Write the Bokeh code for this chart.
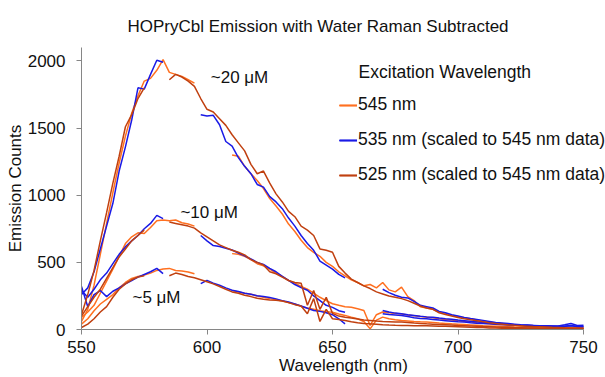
import numpy as np
from bokeh.plotting import figure
from bokeh.models import Range1d, FixedTicker, Legend, LegendItem, Label
from bokeh.embed import file_html
from bokeh.resources import INLINE

nan = float("nan")

# wavelength grid (nm)
wl = np.arange(550, 750.1, 2.5)

# 545 nm excitation (orange)
o20 = [60, 150, 330, 560, 790, 1020, 1240, 1440, 1610, 1740,
       1850, 1870, 1930, 2010, 1915, 1900, 1885, 1860, 1835, nan,
       nan, nan, nan, nan, 1300, 1290, 1215, 1160, 1110, 1050,
       975, 920, 860, 785, 730, 665, 610, 575, 545, 500,
       470, 430, 400, 370, 350, 325, 335, 310, 350, 295,
       280, 315, 245, 215, 170, 160, 150, 130, 120, 105,
       95, 88, 80, 70, 62, 55, 48, 45, 38, 35,
       30, 28, 25, 22, 20, 20, 16, 18, 15, 14,
       14]
o10 = [90, 130, 180, 270, 360, 450, 545, 640, 690, 720,
       715, 760, 810, 815, 810, 815, 795, 785, 770, nan,
       nan, nan, nan, nan, 565, 560, 545, 520, 490, 475,
       450, 420, 395, 365, 345, 320, 300, 270, 240, 215,
       192, 180, 170, 166, 155, 142, 30, 110, 130, 125,
       120, 115, 108, 102, 96, 92, 88, 80, 75, 70,
       65, 60, 55, 50, 46, 42, 38, 35, 32, 29,
       26, 24, 22, 20, 18, 16, 15, 14, 12, 11,
       10]
o5 = [40, 80, 140, 190, 225, 260, 310, 350, 380, 395,
      405, 420, 440, 450, 455, 440, 435, 428, 415, nan,
      nan, nan, nan, nan, 290, 280, 270, 262, 250, 240,
      230, 222, 212, 200, 190, 172, 160, 150, 140, 132,
      128, 115, 105, 92, 80, 60, 5, 70, 92, 80,
      72, 67, 64, 60, 57, 55, 52, 48, 45, 42,
      40, 37, 34, 31, 28, 26, 24, 22, 20, 18,
      17, 16, 15, 14, 13, 12, 11, 10, 10, 9,
      8]

# 535 nm excitation (blue)
b20 = [260, 310, 430, 600, 770, 940, 1180, 1360, 1560, 1800,
       1790, 1900, 2005, 1990, nan, nan, nan, nan, nan, 1600,
       1590, 1595, 1525, 1400, 1365, 1280, 1215, 1160, 1080, 1060,
       990, 950, 900, 830, 770, 700, 640, 590, 510, 480,
       450, 410, 385, nan, nan, nan, nan, nan, 300, 275,
       255, 240, 235, 210, 180, 170, 160, 135, 125, 110,
       100, 90, 82, 75, 68, 60, 52, 48, 44, 40,
       36, 33, 30, 28, 27, 25, 26, 35, 45, 30,
       32]
b10 = [290, 240, 300, 370, 420, 490, 560, 615, 660, 700,
       750, 790, 850, 826, nan, nan, nan, nan, nan, 700,
       660, 625, 618, 605, 592, 570, 548, 525, 500, 485,
       455, 430, 395, 365, 335, 312, 292, 250, 215, 180,
       165, 140, 129, nan, nan, nan, nan, nan, 142, 130,
       122, 117, 110, 104, 98, 94, 92, 85, 80, 76,
       70, 66, 62, 58, 52, 50, 46, 42, 40, 36,
       33, 32, 30, 28, 27, 26, 24, 24, 28, 22,
       20]
b5 = [320, 170, 260, 290, 245, 285, 310, 340, 365, 390,
      410, 430, 455, 416, nan, nan, nan, nan, nan, 341,
      366, 345, 330, 310, 292, 283, 270, 262, 252, 245,
      238, 228, 215, 205, 190, 175, 158, 142, 135, 125,
      110, 80, 42, nan, nan, nan, nan, nan, 117, 112,
      108, 104, 96, 88, 82, 80, 75, 70, 66, 62,
      58, 55, 50, 47, 44, 42, 40, 37, 35, 33,
      31, 30, 28, 27, 26, 25, 25, 24, 30, 23,
      22]

# 525 nm excitation (brown)
r20 = [110, 260, 440, 660, 870, 1090, 1290, 1510, 1600, 1720,
       1800, nan, nan, nan, 1860, 1900, 1880, 1850, 1810, 1720,
       1640, 1620, 1570, 1520, 1450, 1390, 1330, 1230, 1160, 1180,
       1090, 1010, 950, 880, 840, 770, 740, 700, 600, 590,
       575, 470, 420, 375, 350, 325, 305, 280, 265, 250,
       240, 230, 215, 195, 175, 160, 150, 125, 112, 100,
       90, 80, 72, 65, 58, 50, 44, 40, 35, 31,
       28, 25, 22, 20, 18, 16, 15, 13, 12, 11,
       10]
r10 = [100, 170, 240, 300, 380, 460, 540, 600, 660, 700,
       740, nan, nan, nan, 800, 790, 780, 770, 755, 720,
       690, 660, 630, 610, 590, 575, 555, 520, 500, 480,
       430, 415, 390, 365, 350, 345, 180, 290, 150, 240,
       120, 100, 92, 85, 78, 70, 67, 63, 60, 58,
       56, 55, 52, 48, 45, 42, 40, 38, 36, 33,
       30, 28, 26, 24, 22, 20, 18, 17, 16, 14,
       13, 12, 11, 10, 9, 8, 8, 7, 6, 6,
       5]
r5 = [15, 40, 80, 130, 170, 240, 300, 340, 370, 390,
      400, nan, nan, nan, 400, 420, 410, 395, 385, 370,
      355, 340, 320, 300, 280, 270, 255, 245, 232, 225,
      220, 218, 212, 200, 185, 175, 117, 230, 60, 150,
      80, 75, 67, 58, 50, 45, 42, 40, 36, 33,
      31, 30, 29, 28, 27, 27, 26, 25, 24, 22,
      20, 18, 16, 15, 14, 12, 11, 10, 9, 8,
      8, 7, 7, 6, 6, 5, 5, 5, 4, 4,
      4]

x_ticks = [550, 600, 650, 700, 750]
y_ticks = [0, 500, 1000, 1500, 2000]
legend_title = "Excitation Wavelength"
legend_labels = ["545 nm", "535 nm (scaled to 545 nm data)", "525 nm (scaled to 545 nm data)"]
conc_labels = ["~20 \u03bcM", "~10 \u03bcM", "~5 \u03bcM"]

C_OR = "#FF7020"
C_BL = "#1A1AE6"
C_BR = "#C04010"
FONT = "Liberation Sans"
FS = "17px"
TXT = "#111111"

# frame extends to the right edge so the legend text is not clipped;
# the axis line itself is bounded to 550-750
X_END = 750 + 22 / 2.51
p = figure(width=605, height=377, output_backend="svg", toolbar_location=None,
           x_range=Range1d(550, X_END), y_range=Range1d(0, 2100),
           min_border_left=81, min_border_right=0, min_border_top=47, min_border_bottom=48)
p.outline_line_color = None
p.xgrid.visible = False
p.ygrid.visible = False
p.background_fill_color = "white"
p.border_fill_color = "white"

p.title.text = "HOPryCbl Emission with Water Raman Subtracted"
p.title.align = "left"
p.title.offset = 46
p.title.standoff = 24
p.title.text_font = FONT
p.title.text_font_size = FS
p.title.text_font_style = "normal"
p.title.text_color = TXT

for ax in (p.xaxis[0], p.yaxis[0]):
    ax.axis_line_color = "#868686"
    ax.major_tick_line_color = "#868686"
    ax.major_tick_in = 0
    ax.major_tick_out = 5
    ax.minor_tick_line_color = None
    ax.major_label_text_font = FONT
    ax.major_label_text_font_size = FS
    ax.major_label_text_color = TXT
    ax.axis_label_text_font = FONT
    ax.axis_label_text_font_size = FS
    ax.axis_label_text_font_style = "normal"
    ax.axis_label_text_color = TXT

p.xaxis.ticker = FixedTicker(ticks=x_ticks)
p.yaxis.ticker = FixedTicker(ticks=y_ticks)
p.xaxis.bounds = (550, 750)
p.xaxis.axis_label = "Wavelength (nm)"
p.yaxis.axis_label = "Emission Counts"
p.xaxis.major_label_standoff = 6
p.xaxis.axis_label_standoff = 0
p.yaxis.major_label_standoff = 11
p.yaxis.axis_label_standoff = 0

LW = 1.5
ro = [p.line(wl, s, line_color=C_OR, line_width=LW) for s in (o20, o10, o5)]
rb = [p.line(wl, s, line_color=C_BL, line_width=LW) for s in (b20, b10, b5)]
rr = [p.line(wl, s, line_color=C_BR, line_width=LW) for s in (r20, r10, r5)]

legend = Legend(items=[LegendItem(label=legend_labels[0], renderers=ro),
                       LegendItem(label=legend_labels[1], renderers=rb),
                       LegendItem(label=legend_labels[2], renderers=rr)],
                location=(258, 144),
                label_text_font=FONT, label_text_font_size="17.5px", label_text_color=TXT,
                glyph_width=18, glyph_height=20, label_height=20, label_standoff=1,
                spacing=14, padding=0, margin=0,
                border_line_color=None, background_fill_alpha=0)
p.add_layout(legend)

p.add_layout(Label(x=660.4, y=1914, text=legend_title, text_font=FONT, text_font_size="17.5px",
                   text_baseline="middle", text_align="left", text_color=TXT))

conc_x = [601.5, 589.4, 570.3]
conc_y = [1880, 873, 239]
for t, cx, cy in zip(conc_labels, conc_x, conc_y):
    p.add_layout(Label(x=cx, y=cy, text=t, text_font=FONT, text_font_size=FS,
                       text_baseline="middle", text_align="left", text_color=TXT))

open("out.html", "w").write(file_html(p, INLINE))
